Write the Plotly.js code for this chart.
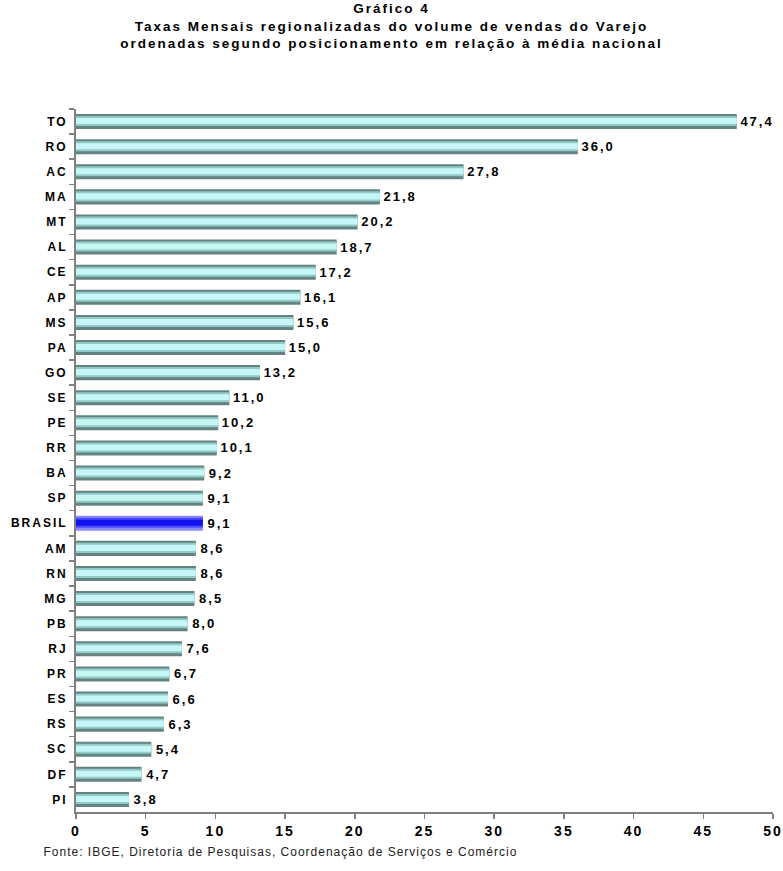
<!DOCTYPE html>
<html>
<head>
<meta charset="utf-8">
<script src="https://cdn.plot.ly/plotly-3.0.1.min.js"></script>
<style>
html,body{margin:0;padding:0;background:#fff;}
#chart{width:783px;height:871px;}
#chart .gtitle{letter-spacing:2px;}
#chart .xtick text{letter-spacing:2px;}
#chart .ytick text{letter-spacing:2px;}
#chart .bartext{letter-spacing:2px;}
#chart .annotation-text{letter-spacing:1px;}
</style>
</head>
<body>
<div id="chart"></div>
<script>
const categories = ["TO","RO","AC","MA","MT","AL","CE","AP","MS","PA","GO","SE","PE","RR","BA","SP","BRASIL","AM","RN","MG","PB","RJ","PR","ES","RS","SC","DF","PI"];
const values = [47.4,36.0,27.8,21.8,20.2,18.7,17.2,16.1,15.6,15.0,13.2,11.0,10.2,10.1,9.2,9.1,9.1,8.6,8.6,8.5,8.0,7.6,6.7,6.6,6.3,5.4,4.7,3.8];
const highlight = "BRASIL";
const xTicks = [0,5,10,15,20,25,30,35,40,45,50];

const labels = values.map(v => ' ' + v.toFixed(1).replace('.', ','));
const isHi = categories.map(c => c === highlight);

const outerCol = isHi.map(h => h ? '#8c8cff' : '#638280');
const midCol   = isHi.map(h => h ? '#4a4aff' : '#92cac8');
const innerCol = isHi.map(h => h ? '#1212ee' : '#c6f6f6');

const base = {type:'bar', orientation:'h', y:categories, x:values, hoverinfo:'skip'};

const traces = [
  Object.assign({}, base, {
    width:0.6, offset:-0.3, marker:{color:outerCol, line:{width:0}},
    text:labels, textposition:'outside', cliponaxis:false,
    textfont:{family:'Liberation Sans, Arial, sans-serif', size:13, color:'#000', weight:'bold'}
  }),
  Object.assign({}, base, {
    width:0.4, offset:-0.22, marker:{color:midCol, line:{width:0}}
  }),
  Object.assign({}, base, {
    width:0.24, offset:-0.14, marker:{color:innerCol, line:{width:0}}
  })
];

const layout = {
  width:783, height:871,
  margin:{l:76, r:10, t:109, b:59},
  paper_bgcolor:'#fff', plot_bgcolor:'#fff',
  barmode:'overlay', showlegend:false, hovermode:false,
  font:{family:'Liberation Sans, Arial, sans-serif', color:'#000'},
  title:{
    text:'Gráfico 4<br>Taxas Mensais regionalizadas do volume de vendas do Varejo<br>ordenadas segundo posicionamento em relação à média nacional',
    x:0.5, xref:'container', xanchor:'center',
    y:1, yref:'container', yanchor:'top', pad:{t:13},
    font:{family:'Liberation Sans, Arial, sans-serif', size:13.5, weight:'bold', color:'#000'}
  },
  xaxis:{
    range:[0,50], tickvals:xTicks, ticktext:xTicks.map(String),
    ticks:'outside', ticklen:5, tickwidth:1.5, tickcolor:'#808080',
    showline:true, linecolor:'#808080', linewidth:2,
    showgrid:false, zeroline:false, fixedrange:true,
    tickfont:{family:'Liberation Sans, Arial, sans-serif', size:14, weight:'bold', color:'#000'}
  },
  yaxis:{
    type:'category', autorange:'reversed',
    ticks:'outside', tickson:'boundaries', ticklen:5, tickwidth:1.5, tickcolor:'#808080',
    ticklabelstandoff:4,
    showline:true, linecolor:'#808080', linewidth:2,
    showgrid:false, zeroline:false, fixedrange:true,
    tickfont:{family:'Liberation Sans, Arial, sans-serif', size:12, weight:'bold', color:'#000'}
  },
  annotations:[{
    text:'Fonte: IBGE, Diretoria de Pesquisas, Coordenação de Serviços e Comércio',
    xref:'paper', yref:'paper', x:-0.047, y:0, xanchor:'left', yanchor:'middle',
    xshift:34, yshift:-40, showarrow:false,
    font:{family:'Liberation Sans, Arial, sans-serif', size:12, color:'#222'}
  }]
};

Plotly.newPlot('chart', traces, layout, {displayModeBar:false, staticPlot:true});
</script>
</body>
</html>
